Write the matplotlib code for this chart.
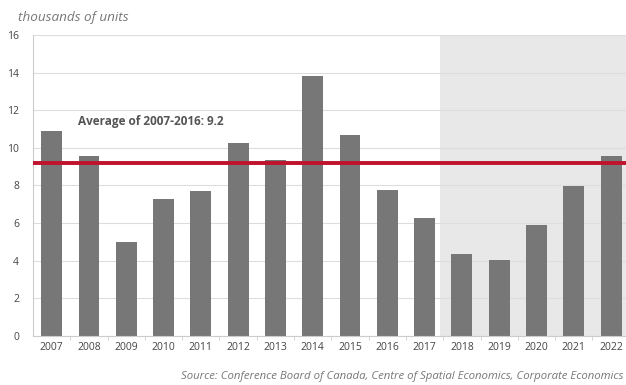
import matplotlib.pyplot as plt

years = [2007, 2008, 2009, 2010, 2011, 2012, 2013, 2014,
         2015, 2016, 2017, 2018, 2019, 2020, 2021, 2022]
units = [10.9, 9.57, 5.0, 7.3, 7.7, 10.27, 9.36, 13.8,
         10.7, 7.77, 6.28, 4.36, 4.04, 5.9, 7.98, 9.57]
average = 9.2
avg_label = "Average of 2007-2016: 9.2"

plt.rcParams['font.family'] = ['Open Sans', 'DejaVu Sans']

fig = plt.figure(figsize=(6.26, 3.85), dpi=100)
ax = fig.add_axes([33 / 626, 1 - 336 / 385, 593 / 626, 301 / 385])

# forecast period shading
ax.axvspan(2017.4, 2023, color="#e8e8e8", zorder=0, lw=0)

ax.bar(years, units, width=0.56, color="#777777", zorder=2)
ax.axhline(average, color="#c0122d", lw=2.8, zorder=3)
ax.text(2007.7, 11.4, avg_label, fontsize=8.5, fontweight="bold",
        color="#555555", ha="left", va="center", zorder=4)

ax.set_xlim(2006.5, 2022.4)
ax.set_ylim(0, 16)
ax.set_yticks(range(0, 17, 2))
ax.set_xticks(years)
ax.set_xticks([y + 0.5 for y in years[:-1]], minor=True)
ax.grid(axis="y", color="#dddddd", lw=0.8, zorder=1)
ax.set_axisbelow(True)

for s in ["top", "right"]:
    ax.spines[s].set_visible(False)
ax.spines["left"].set_color("#cccccc")
ax.spines["bottom"].set_color("#cccccc")
ax.tick_params(axis="both", which="major", length=0, labelsize=7.5,
               colors="#444444", pad=4)
ax.tick_params(axis="x", which="minor", length=3, color="#cccccc")
ax.tick_params(axis="y", pad=10)

fig.text(18 / 626, 1 - 17 / 385, "thousands of units", fontsize=9.7,
         style="italic", color="#777777", ha="left", va="center")
fig.text(623 / 626, 1 - 376 / 385,
         "Source: Conference Board of Canada, Centre of Spatial Economics, Corporate Economics",
         fontsize=8.2, style="italic", color="#777777", ha="right", va="center")

fig.savefig("out.png", dpi=100)
